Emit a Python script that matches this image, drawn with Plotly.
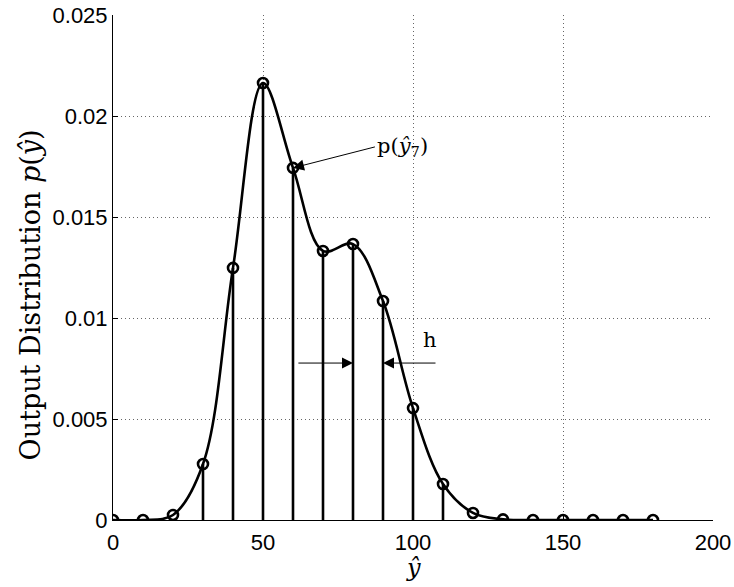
import plotly.graph_objects as go

# Sample points of the output distribution
y_hat = [0, 10, 20, 30, 40, 50, 60, 70, 80, 90, 100, 110, 120, 130, 140, 150, 160, 170, 180]
p_vals = [0.0, 0.0, 0.00025, 0.00277, 0.01248, 0.02163, 0.01743, 0.01332, 0.01366,
          0.01084, 0.00554, 0.00178, 0.00035, 0.00003, 0.0, 0.0, 0.0, 0.0, 0.0]

# Stems drawn under the interior samples
stem_x = [30, 40, 50, 60, 70, 80, 90, 100, 110]

x_ticks = [0, 50, 100, 150, 200]
y_ticks = [0, 0.005, 0.01, 0.015, 0.02, 0.025]
y_tick_text = ["0", "0.005", "0.01", "0.015", "0.02", "0.025"]

lookup = dict(zip(y_hat, p_vals))
sx, sy = [], []
for x in stem_x:
    sx += [x, x, None]
    sy += [0, lookup[x], None]

serif = "DejaVu Serif, Liberation Serif, serif"
sans = "Liberation Sans, Arial, sans-serif"

fig = go.Figure()
fig.add_trace(go.Scatter(x=sx, y=sy, mode="lines",
                         line=dict(color="black", width=2.6), hoverinfo="skip"))
fig.add_trace(go.Scatter(x=y_hat, y=p_vals, mode="lines",
                         line=dict(color="black", width=2.6, shape="spline", smoothing=1.0)))
fig.add_trace(go.Scatter(x=y_hat, y=p_vals, mode="markers",
                         marker=dict(symbol="circle-open", size=10, color="black",
                                     line=dict(width=2.6, color="black"))))

# Label p(ŷ7) with an arrow to its sample
fig.add_annotation(x=60, y=lookup[60], ax=87.3, ay=0.01847, axref="x", ayref="y",
                   text="p(<i>ŷ</i><sub>7</sub>)", showarrow=True, xanchor="left",
                   arrowhead=2, arrowsize=2.2, arrowwidth=1, arrowcolor="black",
                   font=dict(family=serif, size=21, color="black"))

# Spacing marker h between neighbouring samples: two arrows pointing inwards
h_level = 0.00777
h_arrows = [(61.3, 80), (108, 90)]  # (tail, head) in ŷ units
for tail, head in h_arrows:
    fig.add_annotation(x=head, y=h_level, ax=tail, ay=h_level, axref="x", ayref="y",
                       text="", showarrow=True, arrowhead=2, arrowsize=2.2,
                       arrowwidth=1, arrowcolor="black")
fig.add_annotation(x=105.7, y=0.0089, text="h", showarrow=False,
                   font=dict(family=serif, size=21, color="black"))

# Axis titles
fig.add_annotation(xref="paper", yref="paper", x=-0.138, y=0.445,
                   xanchor="center", yanchor="middle",
                   text="Output Distribution <i>p</i>(<i>ŷ</i>)", textangle=-90,
                   showarrow=False, font=dict(family=serif, size=27, color="black"))
fig.add_annotation(xref="paper", yref="paper", x=0.5, y=-0.095,
                   xanchor="center", yanchor="middle",
                   text="<i>ŷ</i>", showarrow=False,
                   font=dict(family=serif, size=24, color="black"))

grid_style = dict(showgrid=True, gridcolor="#666666", griddash="1px,3px", gridwidth=1)

fig.update_layout(
    width=734, height=587,
    margin=dict(l=113, r=21, t=15, b=67),
    plot_bgcolor="white", paper_bgcolor="white",
    showlegend=False,
    font=dict(family=sans, size=22, color="black"),
)
fig.update_xaxes(
    range=[0, 200], tickvals=x_ticks, ticktext=[str(v) for v in x_ticks],
    showline=True, linecolor="black", linewidth=1,
    ticks="inside", ticklen=5, tickcolor="black", ticklabelstandoff=3,
    zeroline=False, automargin=False,
    tickfont=dict(family=sans, size=22), **grid_style,
)
fig.update_yaxes(
    range=[0, 0.025], tickvals=y_ticks, ticktext=y_tick_text,
    showline=True, linecolor="black", linewidth=1,
    ticks="inside", ticklen=5, tickcolor="black",
    zeroline=False, automargin=False,
    tickfont=dict(family=sans, size=22), **grid_style,
)

fig.write_html("out.html")
